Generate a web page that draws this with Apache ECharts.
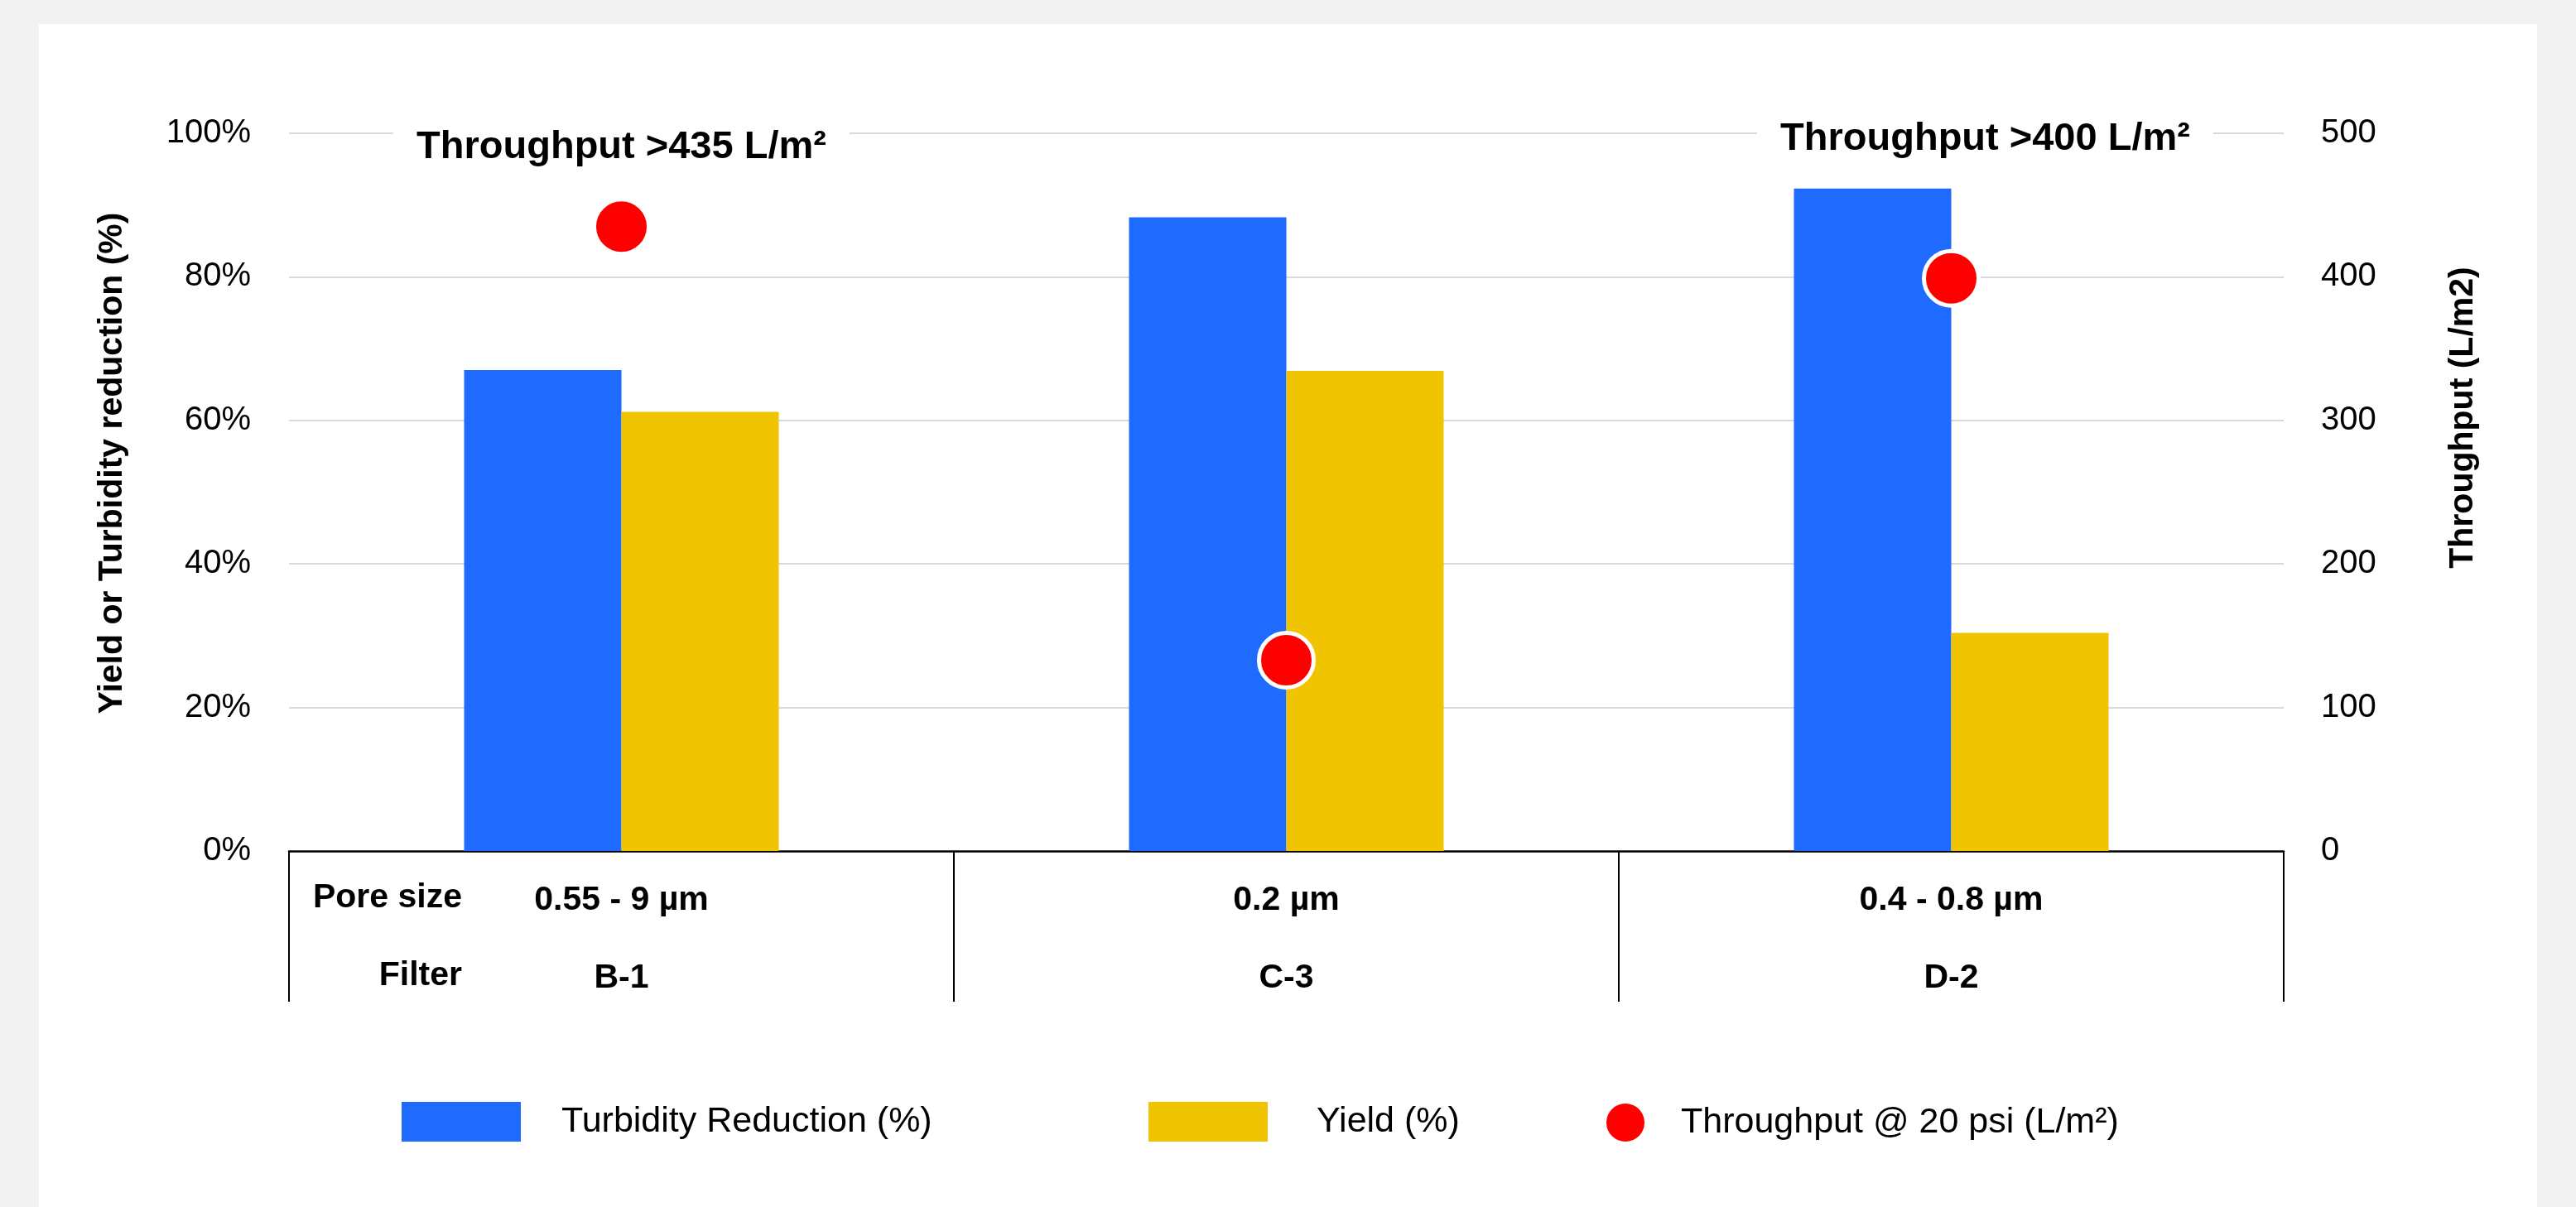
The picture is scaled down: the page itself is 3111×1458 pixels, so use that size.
<!DOCTYPE html>
<html>
<head>
<meta charset="utf-8">
<script src="https://cdn.jsdelivr.net/npm/echarts@6/dist/echarts.min.js"></script>
<style>
  html, body { margin:0; padding:0; background:#f2f2f2; width:3111px; height:1458px; overflow:hidden; }
  #panel { position:absolute; left:47px; top:29px; width:3017px; height:1429px; background:#ffffff; }
  #chart { position:absolute; left:0; top:0; width:3111px; height:1458px; }
</style>
</head>
<body>
<div id="panel"></div>
<div id="chart"></div>
<script>
// ---- data ----
const categories = ['B-1', 'C-3', 'D-2'];
const poreSizes = ['0.55 - 9 µm', '0.2 µm', '0.4 - 0.8 µm'];
const turbidity = [67.0, 88.3, 92.3];
const yieldPct = [61.2, 66.9, 30.4];
const throughput = [435, 133, 399];
const leftAxisMax = 100, leftAxisStep = 20;
const rightAxisMax = 500, rightAxisStep = 100;
const annotCats = ['B-1', 'D-2'];
const annotTexts = ['Throughput >435 L/m²', 'Throughput >400 L/m²'];
const annotValues = [490, 496];
const rowHeaders = ['Pore size', 'Filter'];
const seriesNames = ['Turbidity Reduction (%)', 'Yield (%)', 'Throughput @ 20 psi (L/m²)'];

const FONT = 'Liberation Sans';
const annotOffsets = [[0, 0], [41, 0]];
const chart = echarts.init(document.getElementById('chart'), null, { renderer: 'canvas' });

const option = {
  backgroundColor: 'transparent',
  textStyle: { fontFamily: FONT },
  animation: false,
  grid: { left: 349, right: 353, top: 161, bottom: 430, containLabel: false },
  legend: [
    { left: 485, top: 1331, padding: 0, itemWidth: 144, itemHeight: 48, icon: 'rect',
      data: [seriesNames[0]], textStyle: { fontFamily: FONT, fontSize: 43, color: '#000', padding: [0,0,0,44] } },
    { left: 1387, top: 1331, padding: 0, itemWidth: 144, itemHeight: 48, icon: 'rect',
      data: [seriesNames[1]], textStyle: { fontFamily: FONT, fontSize: 43, color: '#000', padding: [0,0,0,54] } },
    { left: 1938, top: 1331, padding: 0, itemWidth: 48, itemHeight: 48, icon: 'circle',
      data: [seriesNames[2]], textStyle: { fontFamily: FONT, fontSize: 43, color: '#000', padding: [0,0,0,38] } }
  ],
  xAxis: {
    type: 'category',
    data: categories,
    axisLine: { show: true, lineStyle: { color: '#000', width: 2.5 } },
    axisTick: { show: true, length: 182, inside: false, interval: 0, lineStyle: { color: '#000', width: 2 } },
    axisLabel: {
      interval: 0, margin: 13, color: '#000',
      formatter: function (v, i) { return '{a|' + poreSizes[i] + '}\n{b|' + v + '}'; },
      rich: {
        a: { fontFamily: FONT, fontSize: 41, fontWeight: 'bold', lineHeight: 94, color: '#000' },
        b: { fontFamily: FONT, fontSize: 41, fontWeight: 'bold', lineHeight: 94, color: '#000' }
      }
    },
    splitLine: { show: false }
  },
  yAxis: [
    {
      type: 'value', min: 0, max: leftAxisMax, interval: leftAxisStep,
      name: 'Yield or Turbidity reduction (%)', nameLocation: 'middle', nameRotate: 90, nameGap: 193,
      nameTextStyle: { fontFamily: FONT, fontSize: 41, fontWeight: 'bold', color: '#000', padding: [0,0,0,70] },
      axisLine: { show: false }, axisTick: { show: false },
      axisLabel: { formatter: '{value}%', fontFamily: FONT, fontSize: 40, color: '#000', margin: 46 },
      splitLine: { show: true, lineStyle: { color: '#d9d9d9', width: 2 } }
    },
    {
      type: 'value', min: 0, max: rightAxisMax, interval: rightAxisStep, position: 'right',
      name: 'Throughput (L/m2)', nameLocation: 'middle', nameRotate: 90, nameGap: 196,
      nameTextStyle: { fontFamily: FONT, fontSize: 41, fontWeight: 'bold', color: '#000', padding: [0,0,0,180] },
      axisLine: { show: false }, axisTick: { show: false },
      axisLabel: { fontFamily: FONT, fontSize: 40, color: '#000', margin: 45 },
      splitLine: { show: false }
    }
  ],
  series: [
    { name: seriesNames[0], type: 'bar', data: turbidity, barWidth: 190, barGap: '0%',
      itemStyle: { color: '#1f6bff' }, yAxisIndex: 0, z: 2 },
    { name: seriesNames[1], type: 'bar', data: yieldPct, barWidth: 190, barGap: '0%',
      itemStyle: { color: '#f0c400' }, yAxisIndex: 0, z: 2 },
    { name: seriesNames[2], type: 'scatter', data: throughput, yAxisIndex: 1, symbol: 'circle', symbolSize: 66,
      itemStyle: { color: '#ff0000', borderColor: '#ffffff', borderWidth: 5, opacity: 1 }, z: 5,
      markPoint: {
        symbol: 'rect', symbolSize: 1, itemStyle: { color: 'rgba(0,0,0,0)' },
        label: {
          show: true, position: 'inside', color: '#000', fontFamily: FONT, fontSize: 47, fontWeight: 'bold',
          backgroundColor: '#ffffff', padding: [10, 28],
          formatter: function (p) { return p.name; }
        },
        data: annotCats.map(function (c, i) {
          return { name: annotTexts[i], coord: [c, annotValues[i]], label: { offset: annotOffsets[i] } };
        })
      }
    }
  ],
  graphic: [
    { type: 'text', right: 3111 - 558, top: 1088 - 24,
      style: { text: rowHeaders[0], fontFamily: FONT, fontSize: 41, fontWeight: 'bold', fill: '#000', textAlign: 'right' } },
    { type: 'text', right: 3111 - 558, top: 1182 - 24,
      style: { text: rowHeaders[1], fontFamily: FONT, fontSize: 41, fontWeight: 'bold', fill: '#000', textAlign: 'right' } }
  ]
};
chart.setOption(option);
</script>
</body>
</html>
